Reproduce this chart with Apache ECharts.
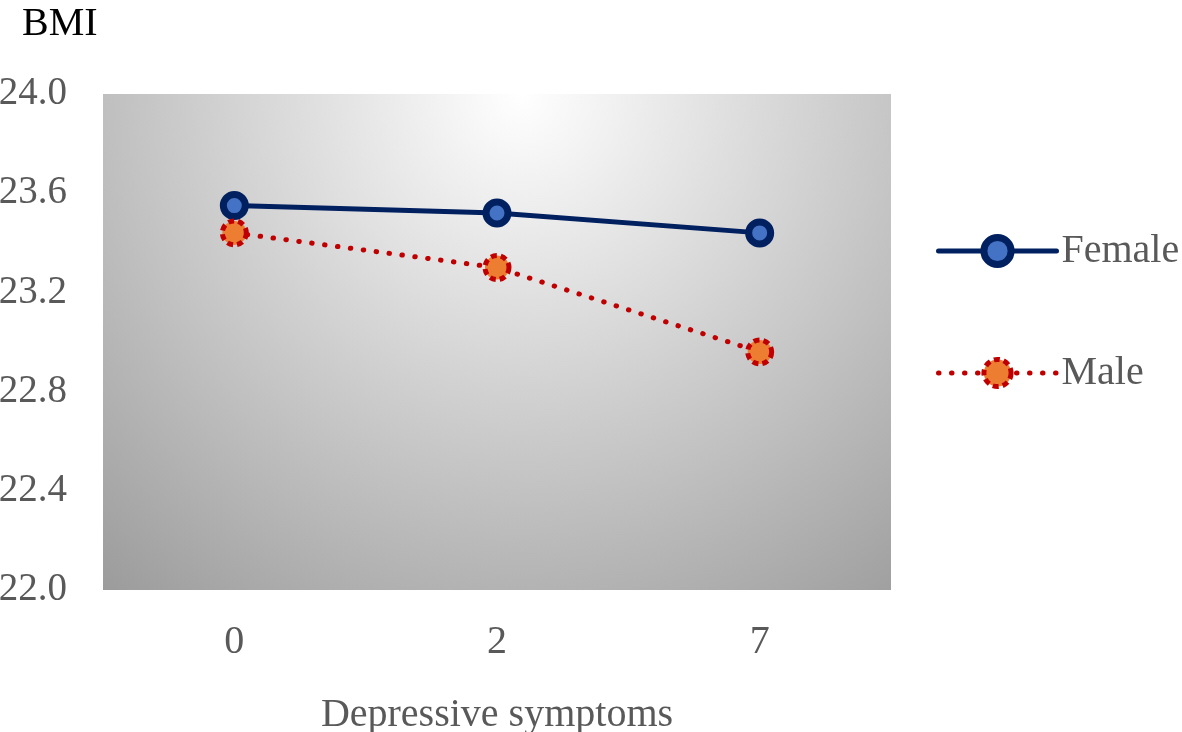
<!DOCTYPE html>
<html><head><meta charset="utf-8">
<script src="https://cdn.jsdelivr.net/npm/echarts@6/dist/echarts.min.js"></script>
<style>html,body{margin:0;padding:0;background:#fff}#c{width:1182px;height:732px}</style>
</head><body><div id="c"></div>
<script>
const categories = ['0', '2', '7'];
const female = [23.55, 23.52, 23.44];
const male = [23.44, 23.30, 22.96];
const yTicks = [22.0, 22.4, 22.8, 23.2, 23.6, 24.0];

const FONT = '"Liberation Serif", "Times New Roman", serif';
const GRAY = '#595959';
const maleDash = [0.5, 12.5];
const chart = echarts.init(document.getElementById('c'));
chart.setOption({
  animation: false,
  title: { text: 'BMI', left: 17, top: -1, textStyle: { fontFamily: FONT, fontSize: 40, fontWeight: 'normal', color: '#000' } },
  grid: {
    left: 103, right: 291, top: 94, bottom: 142, show: true, borderWidth: 0,
    outerBoundsMode: 'none', containLabel: false,
    backgroundColor: { type: 'radial', x: 0.53, y: 0, r: 1.3, colorStops: [
      { offset: 0, color: '#ffffff' }, { offset: 1, color: '#9c9c9c' }] }
  },
  legend: {
    orient: 'vertical', left: 936, top: 231, padding: 0, itemWidth: 118, itemHeight: 34, itemGap: 82,
    textStyle: { fontFamily: FONT, fontSize: 40, color: GRAY, padding: [0, 0, 0, 0] },
    data: [
      { name: 'Female', lineStyle: { width: 5, color: '#002060', cap: 'round' },
        itemStyle: { color: '#4472C4', borderColor: '#002060', borderWidth: 7 } },
      { name: 'Male', lineStyle: { width: 5, color: '#C00000', type: maleDash, cap: 'round' },
        itemStyle: { color: '#ED7D31', borderColor: '#C00000', borderWidth: 5, borderType: [6, 4] } }
    ]
  },
  xAxis: {
    type: 'category', data: categories, boundaryGap: true,
    name: 'Depressive symptoms', nameLocation: 'middle', nameGap: 105,
    nameTextStyle: { fontFamily: FONT, fontSize: 40, color: GRAY },
    axisLine: { show: false }, axisTick: { show: false },
    axisLabel: { fontFamily: FONT, fontSize: 40, color: GRAY, margin: 32 }
  },
  yAxis: {
    type: 'value', min: yTicks[0], max: yTicks[yTicks.length - 1], interval: 0.4,
    axisLine: { show: false }, axisTick: { show: false }, splitLine: { show: false },
    axisLabel: { fontFamily: FONT, fontSize: 39, color: GRAY, margin: 36, formatter: v => v.toFixed(1) }
  },
  series: [
    { name: 'Female', type: 'line', data: female, symbol: 'circle', symbolSize: 22,
      lineStyle: { color: '#002060', width: 5 },
      itemStyle: { color: '#4472C4', borderColor: '#002060', borderWidth: 7 } },
    { name: 'Male', type: 'line', data: male, symbol: 'circle', symbolSize: 24,
      lineStyle: { color: '#C00000', width: 5, type: maleDash, cap: 'round' },
      itemStyle: { color: '#ED7D31', borderColor: '#C00000', borderWidth: 5, borderType: [6, 4] } }
  ]
});
</script></body></html>
